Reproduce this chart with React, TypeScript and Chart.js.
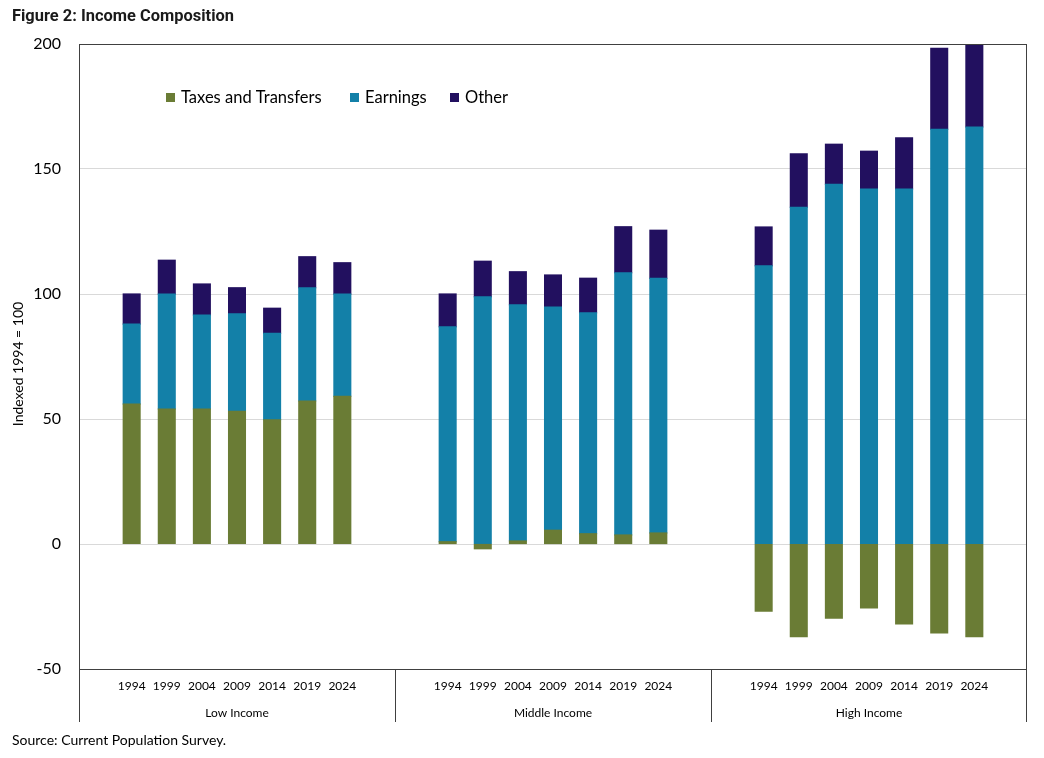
import { useEffect, useRef } from 'react';
import { Chart, registerables } from 'chart.js';

Chart.register(...registerables);

// Categories
const years = ['1994', '1999', '2004', '2009', '2014', '2019', '2024'];
const groupNames = ['Low Income', 'Middle Income', 'High Income'];

// Series values (index, 1994 = 100)
const taxesLow = [56, 54, 54, 53.1, 49.7, 57.2, 59.1];
const earningsLow = [32, 46, 37.6, 39, 34.6, 45.3, 40.9];
const otherLow = [12, 13.5, 12.4, 10.4, 10, 12.4, 12.5];

const taxesMiddle = [0.9, -1.9, 1.2, 5.5, 4.1, 3.6, 4.4];
const earningsMiddle = [86, 98.9, 94.5, 89.3, 88.4, 104.9, 101.9];
const otherMiddle = [13.1, 14.2, 13.2, 12.8, 13.8, 18.4, 19.2];

const taxesHigh = [-26.9, -37.1, -29.7, -25.6, -32, -35.6, -37.1];
const earningsHigh = [111.3, 134.7, 143.9, 142, 142, 165.9, 166.8];
const otherHigh = [15.5, 21.4, 16, 15.1, 20.5, 32.4, 33.2];

// Y axis ticks
const yTicks = [-50, 0, 50, 100, 150, 200];

const seriesNames = ['Taxes and Transfers', 'Earnings', 'Other'];
const seriesColors = ['#6a7c35', '#1380a8', '#22105f'];

const FONT = 'Lato, "Open Sans", sans-serif';

// Each group is padded with an empty slot on both sides
function padGroups(parts: number[][]): (number | null)[] {
  const out: (number | null)[] = [];
  parts.forEach((p) => {
    out.push(null, ...p, null);
  });
  return out;
}

const categoryLabels: string[] = [];
groupNames.forEach(() => {
  categoryLabels.push('', ...years, '');
});

const framePlugin = {
  id: 'frameAndText',
  afterDraw(chart: any) {
    const { ctx, chartArea } = chart;
    const { left, right, top, bottom } = chartArea;
    const xScale = chart.scales.x;
    const slots = years.length + 2;
    ctx.save();

    // frame around the plot
    ctx.strokeStyle = '#404040';
    ctx.lineWidth = 1;
    ctx.beginPath();
    ctx.moveTo(left + 0.5, top + 0.5);
    ctx.lineTo(right - 0.5, top + 0.5);
    ctx.moveTo(left + 0.5, top);
    ctx.lineTo(left + 0.5, 722);
    ctx.moveTo(right - 0.5, top);
    ctx.lineTo(right - 0.5, 722);
    ctx.moveTo(left, bottom + 0.5);
    ctx.lineTo(right, bottom + 0.5);
    ctx.stroke();

    // group separators and group names
    const step = (right - left) / categoryLabels.length;
    ctx.fillStyle = '#000';
    ctx.font = `12px ${FONT}`;
    ctx.textAlign = 'center';
    ctx.textBaseline = 'middle';
    groupNames.forEach((name, g) => {
      const firstIdx = g * slots;
      const lastIdx = firstIdx + slots - 1;
      const x0 = xScale.getPixelForValue(firstIdx) - step / 2;
      const x1 = xScale.getPixelForValue(lastIdx) + step / 2;
      if (g > 0) {
        ctx.beginPath();
        ctx.moveTo(Math.round(x0) + 0.5, bottom);
        ctx.lineTo(Math.round(x0) + 0.5, 722);
        ctx.stroke();
      }
      ctx.fillText(name, (x0 + x1) / 2, 713);
    });

    // legend inside the plot
    ctx.font = `16.5px ${FONT}`;
    ctx.textAlign = 'left';
    const legendX = [166, 350, 450];
    seriesNames.forEach((name, i) => {
      ctx.fillStyle = seriesColors[i];
      ctx.fillRect(legendX[i], 93, 9, 9);
      ctx.fillStyle = '#000';
      ctx.fillText(name, legendX[i] + 15, 98);
    });

    // title
    ctx.font = `bold 16.5px Roboto, sans-serif`;
    ctx.fillStyle = '#1a1a1a';
    ctx.fillText('Figure 2: Income Composition', 12, 17, 222);

    // source note
    ctx.font = `14px ${FONT}`;
    ctx.fillStyle = '#000';
    ctx.fillText('Source: Current Population Survey.', 12, 740, 236);

    // y axis title
    ctx.translate(18, 364);
    ctx.rotate(-Math.PI / 2);
    ctx.textAlign = 'center';
    ctx.font = `14px ${FONT}`;
    ctx.fillText('Indexed 1994 = 100', 0, 0);

    ctx.restore();
  },
};

export default function App() {
  const canvasRef = useRef<HTMLCanvasElement | null>(null);

  useEffect(() => {
    if (!canvasRef.current) return;
    const chart = new Chart(canvasRef.current, {
      type: 'bar',
      data: {
        labels: categoryLabels,
        datasets: [
          {
            label: seriesNames[0],
            data: padGroups([taxesLow, taxesMiddle, taxesHigh]),
            backgroundColor: seriesColors[0],
          },
          {
            label: seriesNames[1],
            data: padGroups([earningsLow, earningsMiddle, earningsHigh]),
            backgroundColor: seriesColors[1],
          },
          {
            label: seriesNames[2],
            data: padGroups([otherLow, otherMiddle, otherHigh]),
            backgroundColor: seriesColors[2],
          },
        ],
      },
      options: {
        animation: false,
        responsive: false,
        maintainAspectRatio: false,
        layout: { padding: { top: 44, right: 17, left: 0, bottom: 0 } },
        datasets: {
          bar: { categoryPercentage: 1, barPercentage: 0.48, inflateAmount: 0.6 },
        },
        plugins: {
          legend: { display: false },
          tooltip: { enabled: false },
          title: { display: false },
        },
        scales: {
          x: {
            stacked: true,
            grid: { display: false, drawTicks: false },
            border: { display: false },
            ticks: {
              autoSkip: false,
              maxRotation: 0,
              minRotation: 0,
              padding: 10,
              color: '#000',
              font: { family: FONT, size: 12 },
              callback: (_v: any, i: number) => categoryLabels[i],
            },
            afterFit: (scale: any) => {
              scale.height = 89;
            },
          },
          y: {
            stacked: true,
            min: -50,
            max: 200,
            afterBuildTicks: (scale: any) => {
              scale.ticks = yTicks.map((v) => ({ value: v }));
            },
            grid: {
              drawTicks: false,
              color: (c: any) =>
                c.tick && (c.tick.value === 200 || c.tick.value === -50)
                  ? 'rgba(0,0,0,0)'
                  : '#d9d9d9',
            },
            border: { display: false },
            ticks: {
              padding: 18,
              color: '#000',
              font: { family: FONT, size: 16 },
            },
            afterFit: (scale: any) => {
              scale.width = 79;
            },
          },
        },
      },
      plugins: [framePlugin],
    });
    return () => chart.destroy();
  }, []);

  return (
    <div style={{ position: 'fixed', left: 0, top: 0, width: 1044, height: 758, background: '#fff' }}>
      <canvas ref={canvasRef} width={1044} height={758} style={{ display: 'block' }} />
    </div>
  );
}
